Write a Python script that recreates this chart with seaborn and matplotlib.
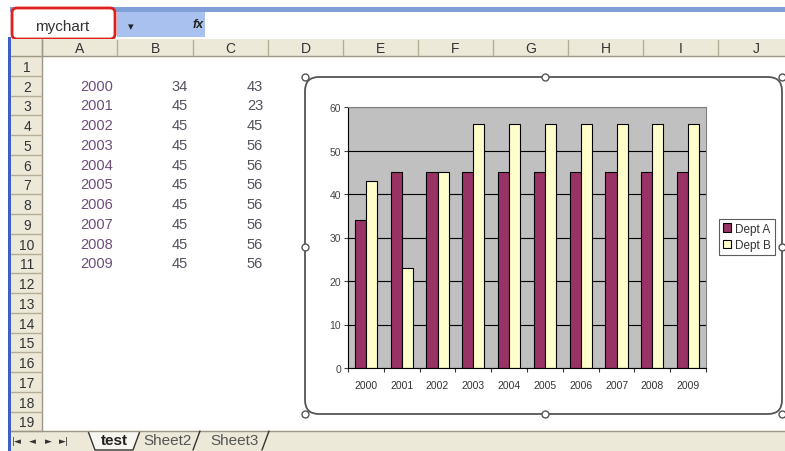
import numpy as np
import pandas as pd
import seaborn as sns
import matplotlib.pyplot as plt
import matplotlib.patches as mpatches

# --- data ---
years = [2000, 2001, 2002, 2003, 2004, 2005, 2006, 2007, 2008, 2009]
dept_a = [34, 45, 45, 45, 45, 45, 45, 45, 45, 45]
dept_b = [43, 23, 45, 56, 56, 56, 56, 56, 56, 56]
series_names = ['Dept A', 'Dept B']
col_letters = ['A', 'B', 'C', 'D', 'E', 'F', 'G', 'H', 'I', 'J']
sheet_tabs = ['test', 'Sheet2', 'Sheet3']
name_box = 'mychart'

# --- styling ---
sns.set_style('white')
plt.rcParams['font.family'] = ['Liberation Sans', 'DejaVu Sans']

COLOR_A = '#993366'
COLOR_B = '#FFFFCC'
BEIGE = '#ECE9D8'
GRID_LINE = '#B5AE96'

W, H = 785, 452
fig = plt.figure(figsize=(W / 100, H / 100), dpi=100)
fig.patch.set_facecolor('white')

# background axes in pixel coordinates for the spreadsheet
sheet = fig.add_axes([0, 0, 1, 1], zorder=0)
sheet.set_xlim(0, W)
sheet.set_ylim(H, 0)
sheet.axis('off')

# toolbar strip + name box / formula bar
sheet.add_patch(mpatches.Rectangle((10, 8), W - 10, 5, color='#7F9FD6', lw=0))
sheet.add_patch(mpatches.Rectangle((117, 13), 88, 25, color='#A9C1EE', lw=0))
sheet.add_patch(mpatches.FancyBboxPatch((12, 9), 103, 31, boxstyle='round,pad=0,rounding_size=5',
                                        fc='white', ec='#E02020', lw=2))
sheet.text(62, 27, name_box, ha='center', va='center', fontsize=11, color='#333333')
sheet.text(131, 27, '\u25BE', ha='center', va='center', fontsize=8, color='#222222',
           family='DejaVu Sans')
sheet.text(198, 25, 'fx', ha='center', va='center', fontsize=9, style='italic',
           weight='bold', color='#222222')

# column headers
col_edges = [42, 117, 193, 268, 343, 418, 493, 568, 643, 718, 795]
sheet.add_patch(mpatches.Rectangle((11, 40), W - 11, 17, color=BEIGE, lw=0))
sheet.plot([11, W], [57, 57], color='#9C9684', lw=1)
for i, letter in enumerate(col_letters):
    x0, x1 = col_edges[i], col_edges[i + 1]
    sheet.plot([x0, x0], [41, 56], color=GRID_LINE, lw=1)
    sheet.text((x0 + x1) / 2, 49, letter, ha='center', va='center', fontsize=10, color='#333333')

# row headers
row_h = 19.75
n_rows = 19
sheet.add_patch(mpatches.Rectangle((11, 57), 31, n_rows * row_h, color=BEIGE, lw=0))
sheet.plot([42, 42], [40, 432], color='#9C9684', lw=1)
for r in range(n_rows):
    top = 57 + r * row_h
    sheet.plot([11, 42], [top + row_h, top + row_h], color=GRID_LINE, lw=1)
    sheet.text(27, top + row_h / 2 + 1, str(r + 1), ha='center', va='center',
               fontsize=10, color='#333333')

# left blue edge
sheet.add_patch(mpatches.Rectangle((8, 38), 3, H - 38, color='#3D5FC4', lw=0))

# cell values (rows 2..11)
for i, (yr, a, b) in enumerate(zip(years, dept_a, dept_b)):
    yc = 57 + (i + 1.5) * row_h
    sheet.text(113, yc, str(yr), ha='right', va='center', fontsize=10.5, color='#6E4E7A')
    sheet.text(188, yc, str(a), ha='right', va='center', fontsize=10.5, color='#555060')
    sheet.text(263, yc, str(b), ha='right', va='center', fontsize=10.5, color='#555060')

# sheet tab bar
sheet.add_patch(mpatches.Rectangle((11, 432), W - 11, 20, color=BEIGE, lw=0))
sheet.plot([11, W], [432, 432], color='#9C9684', lw=1)
for x, s in zip([17, 32, 48, 64], ['|\u25C4', '\u25C4', '\u25BA', '\u25BA|']):
    sheet.text(x, 442, s, ha='center', va='center', fontsize=6.5, color='#333333',
               family='DejaVu Sans')
sheet.add_patch(mpatches.Polygon([(88, 432), (95, 451), (133, 451), (140, 432)],
                                 closed=False, fc='#F7F6F0', ec='#333333', lw=1))
tab_x = [114, 168, 235]
for x, name in zip(tab_x, sheet_tabs):
    sheet.text(x, 441, name, ha='center', va='center', fontsize=11,
               weight='bold' if name == 'test' else 'normal',
               color='#222222' if name == 'test' else '#555555')
for x in [197, 266]:
    sheet.plot([x - 4, x + 3], [451, 432], color='#333333', lw=1)

# chart object border and selection handles
sheet.add_patch(mpatches.FancyBboxPatch((305, 78), 477, 337,
                                        boxstyle='round,pad=0,rounding_size=14',
                                        fc='white', ec='#555555', lw=1.3))
hx = [305, 545, 782, 305, 782, 305, 545, 782]
hy = [78, 78, 78, 248, 248, 415, 415, 415]
sheet.plot(hx, hy, 'o', mfc='white', mec='#555555', ms=5, mew=1)

# --- the bar chart ---
df = pd.DataFrame({'year': [str(y) for y in years], series_names[0]: dept_a,
                   series_names[1]: dept_b})
df = df.melt(id_vars='year', var_name='dept', value_name='value')

left, right, top, bottom = 348, 706, 108, 369
ax = fig.add_axes([left / W, (H - bottom) / H, (right - left) / W, (bottom - top) / H], zorder=2)
sns.barplot(data=df, x='year', y='value', hue='dept', palette=[COLOR_A, COLOR_B],
            saturation=1, edgecolor='black', linewidth=0.8, width=0.62, legend=False, ax=ax)
ax.set_facecolor('#C0C0C0')
ax.set_ylim(0, 60)
ax.set_xlim(-0.5, len(years) - 0.5)
ax.set_yticks(range(0, 61, 10))
ax.yaxis.grid(True, color='black', lw=0.8)
ax.set_axisbelow(True)
ax.set_xlabel('')
ax.set_ylabel('')
for side in ['top', 'right']:
    ax.spines[side].set_color('#808080')
for side in ['left', 'bottom']:
    ax.spines[side].set_color('black')
ax.set_xticks(np.arange(-0.5, len(years)), minor=True)
ax.tick_params(axis='y', direction='out', length=3, width=0.8, labelsize=7.5, pad=2,
               colors='#444444', left=True)
ax.tick_params(axis='x', which='major', length=0, labelsize=7.5, pad=9, colors='#333333')
ax.tick_params(axis='x', which='minor', direction='out', length=3, width=0.8,
               color='#333333', bottom=True)

handles = [mpatches.Patch(facecolor=c, edgecolor='black', lw=0.8, label=n)
           for c, n in zip([COLOR_A, COLOR_B], series_names)]
leg = ax.legend(handles=handles, loc='center left', bbox_to_anchor=(719 / W, (H - 238) / H),
                bbox_transform=fig.transFigure, fontsize=8.5, frameon=True, fancybox=False,
                edgecolor='#333333', handlelength=0.7, handleheight=0.7, handletextpad=0.3,
                borderpad=0.35, labelspacing=0.4, borderaxespad=0)
leg.get_frame().set_linewidth(0.8)
for t in leg.get_texts():
    t.set_color('#333333')

fig.savefig('out.png', dpi=100)
